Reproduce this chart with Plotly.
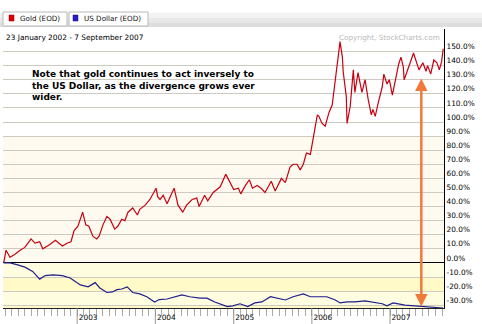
import datetime as dt
import plotly.graph_objects as go

# ---- data (decimal years, % change since 23 Jan 2002) ----
gold_t = [2002.06, 2002.09, 2002.14, 2002.20, 2002.27, 2002.33, 2002.41, 2002.46, 2002.52, 2002.56,
          2002.65, 2002.72, 2002.81, 2002.87, 2002.92, 2002.96, 2003.01, 2003.07, 2003.11, 2003.15,
          2003.20, 2003.25, 2003.28, 2003.33, 2003.38, 2003.42, 2003.48, 2003.52, 2003.57, 2003.61,
          2003.65, 2003.71, 2003.77, 2003.80, 2003.87, 2003.93, 2004.01, 2004.03, 2004.06, 2004.10,
          2004.15, 2004.24, 2004.29, 2004.35, 2004.40, 2004.47, 2004.53, 2004.56, 2004.63, 2004.67,
          2004.74, 2004.83, 2004.90, 2004.95, 2005.00, 2005.06, 2005.09, 2005.15, 2005.20, 2005.24,
          2005.30, 2005.35, 2005.40, 2005.48, 2005.53, 2005.61, 2005.66, 2005.72, 2005.76, 2005.81,
          2005.85, 2005.89, 2005.93, 2005.98, 2006.02, 2006.07, 2006.09, 2006.13, 2006.17, 2006.22,
          2006.26, 2006.30, 2006.32, 2006.36, 2006.39, 2006.40, 2006.44, 2006.45, 2006.49, 2006.53,
          2006.55, 2006.59, 2006.64, 2006.68, 2006.72, 2006.76, 2006.78, 2006.81, 2006.85, 2006.90,
          2006.92, 2006.96, 2006.99, 2007.03, 2007.07, 2007.11, 2007.14, 2007.17, 2007.18, 2007.22,
          2007.27, 2007.30, 2007.33, 2007.37, 2007.42, 2007.46, 2007.48, 2007.52, 2007.56, 2007.60,
          2007.63, 2007.66, 2007.68]
gold_v = [0, 9, 4, 6, 9, 11, 17, 14, 15, 10,
          13, 16, 12, 14, 15, 23, 26, 36, 27, 26,
          19, 17, 19, 27, 33, 31, 24, 26, 31, 30,
          36, 39, 34, 38, 41, 45, 53, 47, 45, 48,
          42, 53, 41, 36, 41, 45, 46, 40, 48, 44,
          50, 54, 63, 58, 52, 53, 49, 55, 59, 53,
          55, 53, 50, 58, 51, 60, 57, 68, 70, 70,
          66, 70, 78, 77, 90, 105, 104, 99, 97, 107,
          112, 130, 142, 157, 146, 136, 118, 99, 111, 137,
          121, 135, 121, 130, 116, 105, 109, 104, 114, 125,
          134, 127, 130, 119, 130, 141, 146, 139, 130, 137,
          144, 149, 144, 137, 142, 136, 140, 134, 144, 142,
          137, 143, 152]

usd_t = [2002.06, 2002.14, 2002.24, 2002.33, 2002.43, 2002.52, 2002.59, 2002.69, 2002.81, 2002.91,
         2003.04, 2003.14, 2003.23, 2003.29, 2003.38, 2003.45, 2003.51, 2003.57, 2003.64, 2003.71,
         2003.80, 2003.89, 2003.99, 2004.05, 2004.15, 2004.34, 2004.44, 2004.57, 2004.66, 2004.76,
         2004.92, 2004.99, 2005.08, 2005.18, 2005.27, 2005.36, 2005.47, 2005.57, 2005.66, 2005.76,
         2005.89, 2005.98, 2006.08, 2006.19, 2006.30, 2006.36, 2006.45, 2006.55, 2006.68, 2006.78,
         2006.90, 2006.96, 2007.04, 2007.19, 2007.29, 2007.41, 2007.49, 2007.60, 2007.68]
usd_v = [0, 0, -1.4, -3, -6, -11.5, -9, -8.5, -9, -10.7,
         -15.6, -17, -14, -17.8, -21, -20.6, -19, -18.5, -17, -21,
         -22, -24, -27.7, -26, -25.6, -22.7, -24, -25, -25, -27.7,
         -31, -30.5, -29, -31, -28.4, -27.7, -24, -25, -26.3, -24,
         -22, -24, -24, -24, -26.3, -28.4, -27.7, -27.7, -27, -27.7,
         -29, -30.5, -28.4, -30, -30.5, -31, -31, -32, -32]

y_ticks = list(range(-30, 151, 10))
years = [2003, 2004, 2005, 2006, 2007]
x_span = (2002.051, 2007.690)
y_span = (-32, 166)
arrow_t = 2007.40
arrow_y = (132, -31)
date_text = "23 January 2002 - 7 September 2007"
note_lines = ["Note that gold continues to act inversely to",
              "the US Dollar, as the divergence grows ever",
              "wider."]


def to_date(t):
    y = int(t)
    return dt.datetime(y, 1, 1) + dt.timedelta(days=(t - y) * 365.25)


W, H = 482, 324
L, R, T, B = 3, 38, 29, 16
pw, ph = W - L - R, H - T - B


def px(x):
    return (x - L) / pw


def py(y):
    return (H - B - y) / ph


fig = go.Figure()
fig.add_trace(go.Scatter(x=[to_date(t) for t in gold_t], y=gold_v, mode="lines",
                         line=dict(color="#C80010", width=1.2), name="Gold (EOD)"))
fig.add_trace(go.Scatter(x=[to_date(t) for t in usd_t], y=usd_v, mode="lines",
                         line=dict(color="#1E1E8C", width=1.2), name="US Dollar (EOD)"))

shapes = []
# background bands
shapes.append(dict(type="rect", xref="paper", yref="y", x0=0, x1=1, y0=0, y1=90,
                   fillcolor="#FFFAF0", line_width=0, layer="below"))
band_cols = ["#FFFDE0", "#FFFAC8", "#FFFDE0", "#FFFAC8"]
band_edges = [0, -10, -20, -30, -32]
for i, c in enumerate(band_cols):
    shapes.append(dict(type="rect", xref="paper", yref="y", x0=0, x1=1,
                       y0=band_edges[i + 1], y1=band_edges[i],
                       fillcolor=c, line_width=0, layer="below"))
# year ticks
for yr in years:
    d = dt.datetime(yr, 1, 1)
    shapes.append(dict(type="line", xref="x", yref="paper", x0=d, x1=d, y0=0, y1=py(324),
                       line=dict(color="#999999", width=1)))
# header band
for (a, b, c) in [(13, 18, "#F2F2F2"), (18, 23, "#E8E8E8"), (23, 27, "#DDDDDD")]:
    shapes.append(dict(type="rect", xref="paper", yref="paper", x0=px(0), x1=px(W),
                       y0=py(b), y1=py(a), fillcolor=c, line_width=0))
# tabs
shapes.append(dict(type="rect", xref="paper", yref="paper", x0=px(3), x1=px(67),
                   y0=py(26), y1=py(12), fillcolor="#FFFFFF", line=dict(color="#B8B8B8", width=1)))
shapes.append(dict(type="rect", xref="paper", yref="paper", x0=px(69), x1=px(148),
                   y0=py(26), y1=py(12), fillcolor="#FFFFFF", line=dict(color="#B8B8B8", width=1)))
shapes.append(dict(type="rect", xref="paper", yref="paper", x0=px(9), x1=px(14),
                   y0=py(21), y1=py(15), fillcolor="#E00000", line=dict(color="#900000", width=0.5)))
shapes.append(dict(type="rect", xref="paper", yref="paper", x0=px(73), x1=px(78),
                   y0=py(21), y1=py(15), fillcolor="#2A1ACC", line=dict(color="#10107A", width=0.5)))

note_html = "<br>".join("<b>%s</b>" % s for s in note_lines)

annos = [
    dict(xref="paper", yref="paper", x=px(18), y=py(18.5), text="Gold (EOD)", showarrow=False,
         xanchor="left", yanchor="middle", font=dict(family="DejaVu Sans", size=7.2, color="#111")),
    dict(xref="paper", yref="paper", x=px(82), y=py(18.5), text="US Dollar (EOD)", showarrow=False,
         xanchor="left", yanchor="middle", font=dict(family="DejaVu Sans", size=7.2, color="#111")),
    dict(xref="paper", yref="paper", x=px(4), y=py(37), text=date_text, showarrow=False,
         xanchor="left", yanchor="middle", font=dict(family="DejaVu Sans", size=7.4, color="#000")),
    dict(xref="paper", yref="paper", x=px(442), y=py(37), text="Copyright, StockCharts.com",
         showarrow=False, xanchor="right", yanchor="middle",
         font=dict(family="DejaVu Sans", size=7.2, color="#B8B8B8")),
    dict(xref="paper", yref="paper", x=px(30), y=py(85), text=note_html, showarrow=False,
         xanchor="left", yanchor="middle", align="left",
         font=dict(family="DejaVu Sans", size=9, color="#000")),
    dict(x=to_date(arrow_t), y=arrow_y[1], ax=to_date(arrow_t), ay=arrow_y[0], xref="x", yref="y",
         axref="x", ayref="y", text="", showarrow=True, arrowhead=2, arrowside="end+start",
         arrowsize=1, arrowwidth=2.5, arrowcolor="#F07A3A", standoff=0, startstandoff=0),
]

fig.update_layout(
    width=W, height=H, margin=dict(l=L, r=R, t=T, b=B, autoexpand=False),
    paper_bgcolor="#FFFFFF", plot_bgcolor="#FFFFFF", showlegend=False,
    shapes=shapes, annotations=annos,
    xaxis=dict(range=[to_date(x_span[0]), to_date(x_span[1])], type="date", automargin=False,
               tick0="2002-01-01", dtick="M12", tickformat="%Y",
               ticks="outside", ticklen=7, tickcolor="#999999",
               minor=dict(dtick="M1", ticks="outside", ticklen=7, tickcolor="#AAAAAA"),
               showgrid=False, showline=True, linecolor="#222222", linewidth=1,
               ticklabelshift=11, ticklabelstandoff=-5,
               tickfont=dict(family="DejaVu Sans", size=7.4, color="#000")),
    yaxis=dict(range=list(y_span), side="right", tickvals=y_ticks, automargin=False,
               ticktext=["%.1f%%" % v for v in y_ticks], ticks="",
               showgrid=True, gridcolor="#CFCAC0", gridwidth=1,
               zeroline=True, zerolinecolor="#000000", zerolinewidth=1,
               showline=True, linecolor="#000000", linewidth=1,
               ticklabelshift=-5,
               tickfont=dict(family="DejaVu Sans", size=7.4, color="#000")),
)

fig.write_html("out.html")
